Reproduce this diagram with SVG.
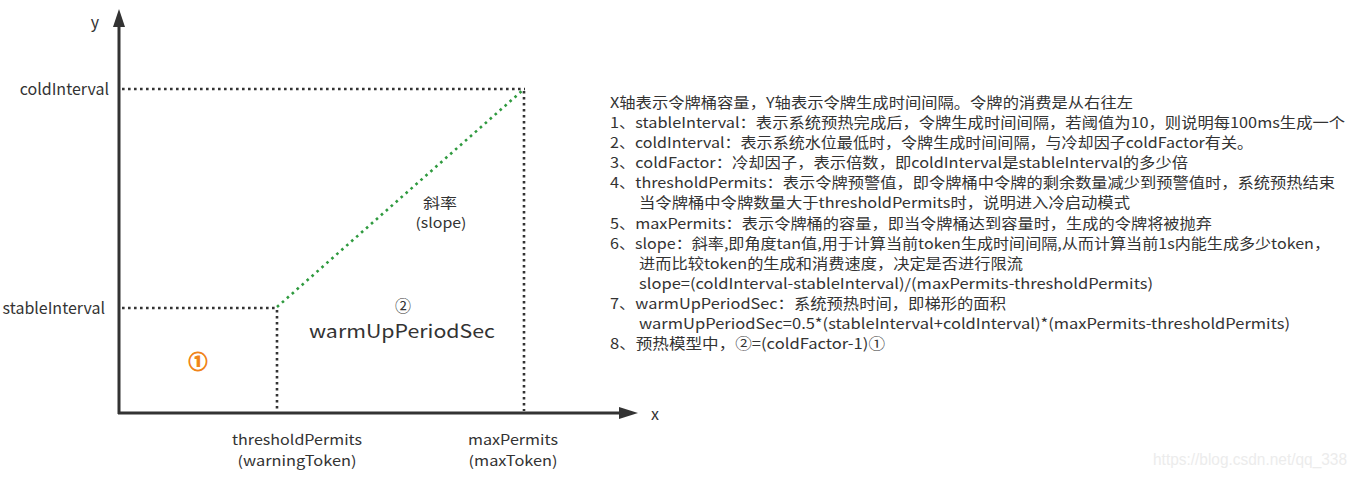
<svg xmlns="http://www.w3.org/2000/svg" width="1350" height="477" viewBox="0 0 1350 477">
<style>
text{font-family:"Noto Sans CJK SC","Noto Sans","Liberation Sans",sans-serif;fill:#333;}
.lbl{font-size:16px;}
.pair{font-size:14px;}
.desc{font-size:14.5px;}
.axis{stroke:#333;stroke-width:3;fill:none;}
.dot{stroke:#333;stroke-width:2.6;stroke-dasharray:2.6 3.4;fill:none;}
.gdot{stroke:#2f9a3f;stroke-width:2.6;stroke-dasharray:2.6 4;fill:none;}
</style>
<rect width="1350" height="477" fill="#fff"/>
<g id="connectors">
  <line class="axis" x1="119" y1="414" x2="119" y2="24"/>
  <polygon points="119,9 113,27 125,27" fill="#333"/>
  <line class="axis" x1="118" y1="413" x2="622" y2="413"/>
  <polygon points="638,413 619,407 619,419" fill="#333"/>
  <line class="dot" x1="122" y1="89" x2="525" y2="89"/>
  <line class="dot" x1="524" y1="91" x2="524" y2="411"/>
  <line class="dot" x1="122" y1="308" x2="276" y2="308"/>
  <line class="dot" x1="277" y1="310" x2="277" y2="411"/>
  <line class="gdot" x1="277" y1="307" x2="523" y2="90"/>
</g>
<g id="axis-labels" class="lbl">
  <text x="95" y="28" text-anchor="middle">y</text>
  <text x="655" y="420" text-anchor="middle">x</text>
  <text x="109" y="95" text-anchor="end">coldInterval</text>
  <text x="105" y="314" text-anchor="end">stableInterval</text>
</g>
<g id="threshold-label" class="pair">
  <text x="297" y="445" text-anchor="middle" textLength="130" lengthAdjust="spacingAndGlyphs">thresholdPermits</text>
  <text x="297" y="466" text-anchor="middle" textLength="119" lengthAdjust="spacingAndGlyphs">(warningToken)</text>
</g>
<g id="max-label" class="pair">
  <text x="513" y="445" text-anchor="middle" textLength="90" lengthAdjust="spacingAndGlyphs">maxPermits</text>
  <text x="513" y="466" text-anchor="middle" textLength="89" lengthAdjust="spacingAndGlyphs">(maxToken)</text>
</g>
<g id="slope-label" class="pair">
  <text x="440" y="208" text-anchor="middle" textLength="34" lengthAdjust="spacingAndGlyphs">斜率</text>
  <text x="441" y="228" text-anchor="middle" textLength="51" lengthAdjust="spacingAndGlyphs">(slope)</text>
</g>
<g id="region-1">
  <text x="198" y="369" text-anchor="middle" font-size="19" font-weight="bold" style="fill:#f0841a;stroke:#f0841a;stroke-width:0.9">①</text>
</g>
<g id="region-2">
  <text x="403" y="312" text-anchor="middle" font-size="16">②</text>
  <text x="402" y="338" text-anchor="middle" font-size="18.5" textLength="186" lengthAdjust="spacingAndGlyphs">warmUpPeriodSec</text>
</g>
<g id="description" class="desc">
  <text x="610" y="108" textLength="523" lengthAdjust="spacingAndGlyphs">X轴表示令牌桶容量，Y轴表示令牌生成时间间隔。令牌的消费是从右往左</text>
  <text x="610" y="128" textLength="735" lengthAdjust="spacingAndGlyphs">1、stableInterval：表示系统预热完成后，令牌生成时间间隔，若阈值为10，则说明每100ms生成一个</text>
  <text x="610" y="148" textLength="643" lengthAdjust="spacingAndGlyphs">2、coldInterval：表示系统水位最低时，令牌生成时间间隔，与冷却因子coldFactor有关。</text>
  <text x="610" y="168" textLength="578" lengthAdjust="spacingAndGlyphs">3、coldFactor：冷却因子，表示倍数，即coldInterval是stableInterval的多少倍</text>
  <text x="610" y="188" textLength="725" lengthAdjust="spacingAndGlyphs">4、thresholdPermits：表示令牌预警值，即令牌桶中令牌的剩余数量减少到预警值时，系统预热结束</text>
  <text x="639" y="208" textLength="491" lengthAdjust="spacingAndGlyphs">当令牌桶中令牌数量大于thresholdPermits时，说明进入冷启动模式</text>
  <text x="610" y="229" textLength="602" lengthAdjust="spacingAndGlyphs">5、maxPermits：表示令牌桶的容量，即当令牌桶达到容量时，生成的令牌将被抛弃</text>
  <text x="610" y="249" textLength="720" lengthAdjust="spacingAndGlyphs">6、slope：斜率,即角度tan值,用于计算当前token生成时间间隔,从而计算当前1s内能生成多少token，</text>
  <text x="639" y="269" textLength="384" lengthAdjust="spacingAndGlyphs">进而比较token的生成和消费速度，决定是否进行限流</text>
  <text x="639" y="289" textLength="514" lengthAdjust="spacingAndGlyphs">slope=(coldInterval-stableInterval)/(maxPermits-thresholdPermits)</text>
  <text x="610" y="309" textLength="396" lengthAdjust="spacingAndGlyphs">7、warmUpPeriodSec：系统预热时间，即梯形的面积</text>
  <text x="639" y="329" textLength="651" lengthAdjust="spacingAndGlyphs">warmUpPeriodSec=0.5*(stableInterval+coldInterval)*(maxPermits-thresholdPermits)</text>
  <text x="610" y="349" textLength="275" lengthAdjust="spacingAndGlyphs">8、预热模型中，②=(coldFactor-1)①</text>
</g>
<g id="watermark">
  <text x="1153" y="465" font-size="16" textLength="194" lengthAdjust="spacingAndGlyphs" style="fill:#ececec;font-family:'Liberation Sans',sans-serif">https://blog.csdn.net/qq_338</text>
</g>
</svg>
